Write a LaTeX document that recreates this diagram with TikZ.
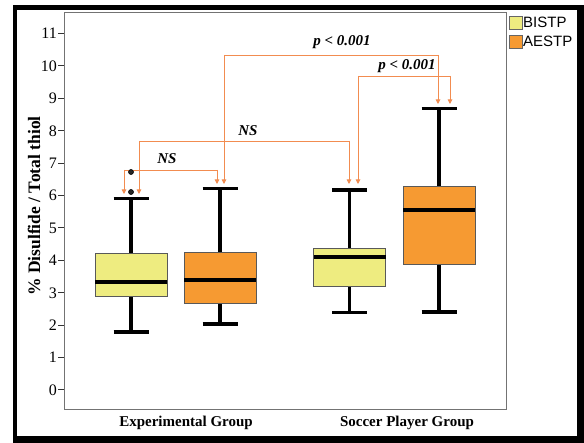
\documentclass[tikz,border=0pt]{standalone}
\usepackage{fontspec}
\setmainfont{Liberation Serif}
\newfontfamily\legfont{Liberation Sans}
\usetikzlibrary{arrows.meta}
\definecolor{boxyellow}{RGB}{238,236,128}
\definecolor{boxorange}{RGB}{246,154,50}
\definecolor{annot}{RGB}{242,140,80}
\tikzset{
  boxst/.style={draw=black!65,line width=0.9pt},
  whisk/.style={draw=black,line width=3.2pt},
  medst/.style={draw=black,line width=3.6pt},
  annline/.style={draw=annot,line width=0.9pt},
  annarrow/.style={annline,-{Triangle[length=4.5pt,width=4.5pt]}},
  anntext/.style={font=\fontsize{15}{15}\selectfont\bfseries\itshape},
  ticklab/.style={anchor=east,font=\fontsize{16}{16}\selectfont,inner sep=0pt},
  grouplab/.style={font=\fontsize{15}{15}\selectfont\bfseries},
  legtext/.style={anchor=west,font=\legfont\fontsize{15}{15}\selectfont,inner sep=1pt},
  outl/.style={fill=black!85,draw=black,line width=0.6pt}
}
% box plot: center x, lower whisker, q1, median, q3, upper whisker, fill colour
\newcommand{\boxplotdraw}[7]{%
  \draw[whisk] (#1,{390-32.4*#2}) -- (#1,{390-32.4*#3});
  \draw[whisk] (#1,{390-32.4*#5}) -- (#1,{390-32.4*#6});
  \draw[whisk] ({#1-17.5},{390-32.4*#2}) -- ({#1+17.5},{390-32.4*#2});
  \draw[whisk] ({#1-17.5},{390-32.4*#6}) -- ({#1+17.5},{390-32.4*#6});
  \filldraw[boxst,fill=#7] ({#1-36},{390-32.4*#3}) rectangle ({#1+36},{390-32.4*#5});
  \draw[medst] ({#1-36},{390-32.4*#4}) -- ({#1+36},{390-32.4*#4});
}
\begin{document}
\begin{tikzpicture}[x=1pt,y=-1pt]
\useasboundingbox (0,0) rectangle (584,443);
% outer frame
\fill[black] (13,5) rectangle (584,443);
\fill[white] (17,10) rectangle (577,436);
% plot frame
\draw[black!55,line width=1pt] (64,13) rectangle (506,410);
% y ticks
\foreach \v in {0,...,11}{
  \draw[black!80,line width=1pt] (58,{390-32.4*\v}) -- (64,{390-32.4*\v});
  \node[ticklab] (t\v) at (57,{390-32.4*\v}) {\v};
}
\node[rotate=90,font=\fontsize{17.5}{17.5}\selectfont\bfseries] (ylab) at (34,206) {\% Disulfide / Total thiol};
% boxes
\boxplotdraw{131}{1.79}{2.9}{3.33}{4.2}{5.9}{boxyellow}
\boxplotdraw{220}{2.04}{2.68}{3.39}{4.23}{6.22}{boxorange}
\boxplotdraw{349.5}{2.38}{3.19}{4.1}{4.38}{6.17}{boxyellow}
\boxplotdraw{439}{2.41}{3.86}{5.56}{6.27}{8.7}{boxorange}
% annotation coordinates
\coordinate (a1) at (124,170); \coordinate (a2) at (217,170);
\coordinate (a1e) at (124,194); \coordinate (a2e) at (217,184);
\coordinate (b1) at (139,141); \coordinate (b2) at (349,141);
\coordinate (b1e) at (139,194); \coordinate (b2e) at (349,184);
\coordinate (c1) at (224,55); \coordinate (c2) at (438,55);
\coordinate (c1e) at (224,184); \coordinate (c2e) at (438,104);
\coordinate (d1) at (358,76); \coordinate (d2) at (450,76);
\coordinate (d1e) at (358,184); \coordinate (d2e) at (450,104);
\draw[annline] (a1) -- (a2);
\draw[annarrow] (a1) -- (a1e);
\draw[annarrow] (a2) -- (a2e);
\draw[annline] (b1) -- (b2);
\draw[annarrow] (b1) -- (b1e);
\draw[annarrow] (b2) -- (b2e);
\draw[annline] (c1) -- (c2);
\draw[annarrow] (c1) -- (c1e);
\draw[annarrow] (c2) -- (c2e);
\draw[annline] (d1) -- (d2);
\draw[annarrow] (d1) -- (d1e);
\draw[annarrow] (d2) -- (d2e);
% outliers (on top of the connectors)
\filldraw[outl] (131,172) circle (2.5pt);
\filldraw[outl] (131,192) circle (2.5pt);
\node[anntext] (ns1) at (167,159) {NS};
\node[anntext] (ns2) at (248,131) {NS};
\node[anntext] (p1) at (342,42) {p < 0.001};
\node[anntext] (p2) at (407,66) {p < 0.001};
% group labels
\node[grouplab] (g1) at (186,423) {Experimental Group};
\node[grouplab] (g2) at (407,423) {Soccer Player Group};
% legend
\filldraw[fill=boxyellow,draw=black!60,line width=0.8pt] (509,16) rectangle (522,29);
\filldraw[fill=boxorange,draw=black!60,line width=0.8pt] (509,35) rectangle (522,48);
\node[legtext] (l1) at (522,22.5) {BISTP};
\node[legtext] (l2) at (522,41.5) {AESTP};
\end{tikzpicture}
\end{document}
